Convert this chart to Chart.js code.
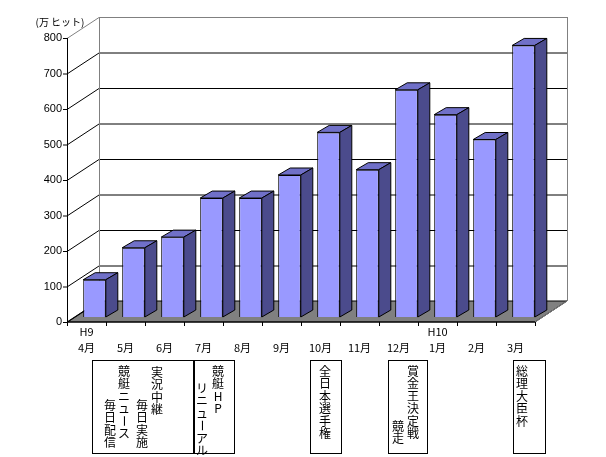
<!DOCTYPE html>
<html><head><meta charset="utf-8">
<script src="https://cdn.jsdelivr.net/npm/chart.js@4"></script>
<style>body{margin:0;background:#fff}canvas{display:block}</style>
</head><body>
<div style="width:606px;height:457px"><canvas id="c" width="606" height="457"></canvas></div>
<script>
const months = ["4月","5月","6月","7月","8月","9月","10月","11月","12月","1月","2月","3月"];
const hits = [105,195,225,335,335,400,520,415,640,570,500,765];
const yTicks = [0,100,200,300,400,500,600,700,800];
const eraLabels = [{idx:0,text:"H9"},{idx:9,text:"H10"}];
const notes = [
  {box:[92,360,193,453], cols:[{x:157,y:372,t:"実況中継"},{x:142,y:405,t:"毎日実施"},{x:124,y:371,t:"競艇ニュース"},{x:110,y:405,t:"毎日配信"}]},
  {box:[194,360,234,453], cols:[{x:218,y:371,t:"競艇HP"},{x:202,y:388,t:"リニューアル"}]},
  {box:[310,360,341,453], cols:[{x:325,y:371,t:"全日本選手権"}]},
  {box:[388,360,427,453], cols:[{x:413,y:371,t:"賞金王決定戦"},{x:398,y:426,t:"競走"}]},
  {box:[513,360,545,453], cols:[{x:522,y:371,t:"総理大臣杯"}]}
];
const AX={dx:-8,dy:5}, BK={dx:24,dy:-16}, D={dx:12,dy:-7};
const plugin={id:'p3d',
 beforeDatasetsDraw(ch){
  const c=ch.ctx,a=ch.chartArea,ys=ch.scales.y;
  const L=a.left+AX.dx,R=a.right+AX.dx,B=a.bottom+AX.dy;
  const bL=a.left+BK.dx,bR=a.right+BK.dx,bB=a.bottom+BK.dy;
  c.save();
  // floor
  c.fillStyle='#808080';c.strokeStyle='#000';c.lineWidth=1;
  c.beginPath();c.moveTo(L,B);c.lineTo(R,B);c.lineTo(bR,bB);c.lineTo(bL,bB);c.closePath();c.fill();c.stroke();
  // gridlines
  yTicks.forEach(v=>{const y=ys.getPixelForValue(v)+AX.dy;const yb=ys.getPixelForValue(v)+BK.dy;
    c.strokeStyle=v===800?'#808080':'#000';
    c.beginPath();c.moveTo(L,y+0.5);c.lineTo(bL,yb+0.5);
    if(v>0){c.lineTo(bR,yb+0.5);}c.stroke();
    c.strokeStyle='#000';c.beginPath();c.moveTo(L-4,y+0.5);c.lineTo(L,y+0.5);c.stroke();
    c.fillStyle='#000';c.font='11px "Liberation Sans",Arial';c.textAlign='right';c.textBaseline='middle';
    c.fillText(String(v),L-5,y);
  });
  const yT=ys.getPixelForValue(800);
  c.strokeStyle='#808080';
  c.beginPath();c.moveTo(bL+0.5,yT+BK.dy);c.lineTo(bL+0.5,bB);c.stroke();
  c.beginPath();c.moveTo(bR+0.5,yT+BK.dy);c.lineTo(bR+0.5,bB);c.stroke();
  c.beginPath();c.moveTo(R,B);c.lineTo(bR,bB);c.stroke();
  c.strokeStyle='#000';
  c.beginPath();c.moveTo(L+0.5,yT+AX.dy);c.lineTo(L+0.5,B);c.lineTo(R,B);c.stroke();
  // category ticks
  const xs=ch.scales.x,w=(a.right-a.left)/months.length;
  for(let i=0;i<=months.length;i++){const x=Math.round(L+i*w)+0.5;c.beginPath();c.moveTo(x,B);c.lineTo(x,B+4);c.stroke();}
  c.fillStyle='#000';c.font='11px "Noto Sans CJK JP",sans-serif';c.textAlign='center';c.textBaseline='middle';
  months.forEach((m,i)=>c.fillText(m,xs.getPixelForValue(i)+AX.dx,B+26));
  eraLabels.forEach(e=>c.fillText(e.text,xs.getPixelForValue(e.idx)+AX.dx,B+10));
  c.font='10px "Noto Sans CJK JP",sans-serif';c.fillText("(万 ヒット)",60,22);
  // notes
  c.font='12px "Noto Sans CJK JP",sans-serif';
  notes.forEach(n=>{const[x1,y1,x2,y2]=n.box;c.strokeStyle='#000';c.strokeRect(x1+0.5,y1+0.5,x2-x1,y2-y1);
    n.cols.forEach(col=>{[...col.t].forEach((ch2,k)=>{const y=col.y+k*12.5;
      if(ch2==='ー'){c.save();c.translate(col.x,y);c.rotate(Math.PI/2);c.fillText(ch2,0,0);c.restore();}
      else c.fillText(ch2,col.x,y);});});});
  c.restore();
 },
 afterDatasetsDraw(ch){
  const c=ch.ctx;c.save();c.strokeStyle='#000';c.lineWidth=1;
  ch.getDatasetMeta(0).data.forEach(b=>{
   const l=b.x-b.width/2,r=b.x+b.width/2,t=b.y,bt=b.base;
   c.fillStyle='#7070C8';c.beginPath();c.moveTo(l,t);c.lineTo(l+D.dx,t+D.dy);c.lineTo(r+D.dx,t+D.dy);c.lineTo(r,t);c.closePath();c.fill();c.stroke();
   c.fillStyle='#4B4B8C';c.beginPath();c.moveTo(r,t);c.lineTo(r+D.dx,t+D.dy);c.lineTo(r+D.dx,bt+D.dy);c.lineTo(r,bt);c.closePath();c.fill();c.stroke();
  });c.restore();
 }};
new Chart(document.getElementById('c'),{type:'bar',
 data:{labels:months,datasets:[{data:hits,backgroundColor:'#9999FF',borderColor:'#000',borderWidth:1,barPercentage:0.58,categoryPercentage:1}]},
 options:{responsive:false,animation:false,layout:{padding:{left:75,right:63,top:33,bottom:140}},
  plugins:{legend:{display:false},tooltip:{enabled:false}},
  scales:{x:{display:false},y:{display:false,min:0,max:800}}},
 plugins:[plugin]});
</script></body></html>
